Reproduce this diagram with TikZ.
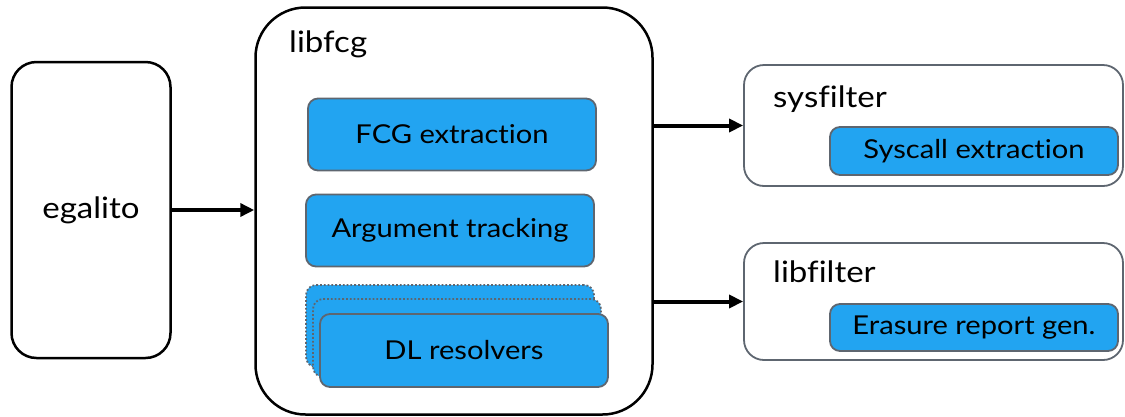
\documentclass[tikz,border=0pt]{standalone}
\usepackage{fontspec}
\setmainfont[FakeStretch=1.12, Ligatures=NoCommon]{Lato}
\usetikzlibrary{arrows.meta}
\definecolor{boxblue}{HTML}{22A4F1}
\definecolor{edgegray}{HTML}{5E6670}
\tikzset{
  bigbox/.style={draw=black, line width=2.5pt, fill=white},
  groupbox/.style={draw=edgegray, line width=1.8pt, fill=white, rounded corners=20pt},
  stepbox/.style={draw=edgegray, line width=1.8pt, fill=boxblue, rounded corners=10pt,
    font=\fontsize{26}{31}\selectfont, inner sep=0pt},
  ghostbox/.style={draw=edgegray, line width=1.8pt, fill=boxblue, rounded corners=10pt,
    dotted, inner sep=0pt},
  title/.style={anchor=base west, inner sep=0pt, font=\fontsize{29.5}{35}\selectfont},
  arr/.style={line width=4pt, -{Triangle[length=14pt,width=13pt]}},
}
\begin{document}
\begin{tikzpicture}[x=1pt, y=-1pt]
\useasboundingbox (0,0) rectangle (1125,416);

% left input block
\node[bigbox, rounded corners=25pt, minimum width=159pt, minimum height=296pt,
  font=\fontsize{29.5}{35}\selectfont] (ega) at (91,210) {egalito};

% central library block
\node[bigbox, rounded corners=50pt, minimum width=397pt, minimum height=407pt] (lib) at (454,211) {};
\node[title] (libt) at (289,52) {libfcg};
\node[stepbox, minimum width=288pt, minimum height=72pt] (fcg) at (452,134.5) {FCG extraction};
\node[stepbox, minimum width=288pt, minimum height=72pt] (argt) at (450,230.5) {Argument tracking};
\node[ghostbox, minimum width=288pt, minimum height=82pt] (dlb) at (450,326) {};
\node[ghostbox, minimum width=288pt, minimum height=78pt] (dlm) at (457,338) {};
\node[stepbox, minimum width=288pt, minimum height=73pt] (dl) at (464,350.5) {DL resolvers};

% consumer blocks
\node[groupbox, minimum width=379pt, minimum height=121pt] (sys) at (933.5,125.5) {};
\node[title] (syst) at (773,107) {sysfilter};
\node[stepbox, minimum width=288pt, minimum height=48pt] (sce) at (974,151) {Syscall extraction};

\node[groupbox, minimum width=379pt, minimum height=117pt] (lf) at (933.5,301.5) {};
\node[title] (lft) at (773,282) {libfilter};
\node[stepbox, minimum width=288pt, minimum height=47pt] (erg) at (974,327.5) {Erasure report gen.};

% connectors
\draw[arr] (ega.east) -- (ega.east -| lib.west);
\draw[arr] (lib.east |- sys.west) -- (sys.west);
\draw[arr] (lib.east |- lf.west) -- (lf.west);
\end{tikzpicture}
\end{document}
